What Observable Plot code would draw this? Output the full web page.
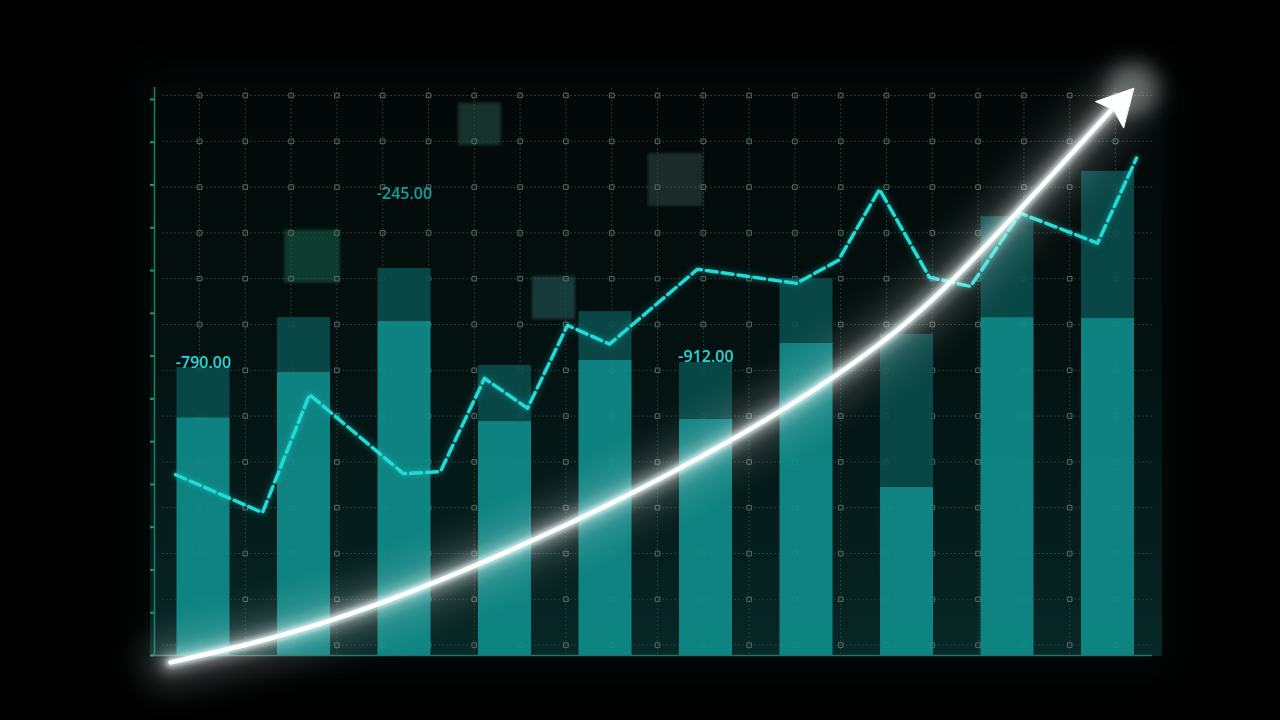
<!DOCTYPE html>
<html>
<head>
<meta charset="utf-8">
<script src="https://cdn.jsdelivr.net/npm/d3@7"></script>
<script src="https://cdn.jsdelivr.net/npm/@observablehq/plot@0.6"></script>
<style>
  html, body { margin: 0; padding: 0; background: #000; width: 1280px; height: 720px; overflow: hidden; }
  #stage { position: relative; width: 1280px; height: 720px; background: #000; }
  #panel { position: absolute; left: 150px; top: 84px; width: 1012px; height: 572px;
           background: linear-gradient(180deg, #030807 0%, #031110 45%, #05201f 85%, #062826 100%);
           box-shadow: 0 0 40px 20px #020908; }
  #stage svg { position: absolute; left: 0; top: 0; }
</style>
</head>
<body>
<div id="stage"><div id="panel"></div></div>
<script>
// ---------------- data ----------------
const periods      = [1, 2, 3, 4, 5, 6, 7, 8, 9, 10];
const baseValues   = [556, 662, 781, 547, 690, 552, 730, 393, 790, 788];   // lighter lower segment
const totalValues  = [673, 790, 905, 678, 804, 685, 881, 751, 1026, 1132]; // darker top of bar

const trendX = [0.721, 1.587, 2.055, 2.990, 3.358, 3.796, 4.224, 4.622, 5.040, 5.915, 6.900, 7.318, 7.726, 8.224, 8.632, 9.129, 9.896, 10.284];
const trendY = [423, 334, 610, 425, 430, 648, 578, 772, 728, 903, 870, 924, 1090, 884, 863, 1034, 964, 1163];

const growthX = [0.672, 2.264, 4.254, 6.244, 7.736, 8.761, 10.075];
const growthY = [-16, 82, 267, 503, 730, 952, 1286];

const arrowHeadX = [10.254, 9.876, 10.055, 10.154];
const arrowHeadY = [1326, 1295, 1276, 1234];

const labelPeriods = [1, 3, 6];
const labelValues  = [685, 1080, 699];
const labelTexts   = ["-790.00", "-245.00", "-912.00"];
const labelColors  = ["#22d8d8", "#179a98", "#22d8d8"];

const yTicks = d3.range(0, 1400, 100);

// background grid (cell units)
const gridCols = d3.range(0, 21);
const gridRows = d3.range(0, 13);
const tileX1 = [5.66, 9.80, 1.86, 7.27];
const tileX2 = [6.59, 11.0, 3.08, 8.21];
const tileY1 = [0.17, 1.27, 2.94, 3.95];
const tileY2 = [1.09, 2.42, 4.10, 4.89];
const tileColors = ["#12302a", "#1d2b29", "#0c3a2d", "#163a37"];

// ---------------- tables ----------------
const bars = periods.map((p, i) => ({period: p, base: baseValues[i], total: totalValues[i]}));
const trend = trendX.map((x, i) => ({x, y: trendY[i]}));
const growth = growthX.map((x, i) => ({x, y: growthY[i]}));
const head = arrowHeadX.map((x, i) => ({x, y: arrowHeadY[i]}));
const tip = [head[0]];
const labels = labelPeriods.map((p, i) => ({x: p, y: labelValues[i], text: labelTexts[i], color: labelColors[i]}));
const tiles = tileX1.map((x1, i) => ({x1, x2: tileX2[i], y1: tileY1[i], y2: tileY2[i], color: tileColors[i]}));
const crossings = d3.cross(gridCols, gridRows);

const stage = document.getElementById("stage");

// ---------------- grid layer ----------------
const grid = Plot.plot({
  width: 1280, height: 720,
  marginLeft: 199, marginRight: 165, marginTop: 95, marginBottom: 75.4,
  x: {domain: [0, 20], axis: null},
  y: {domain: [12, 0], axis: null},
  style: {background: "transparent"},
  marks: [
    Plot.rect(tiles, {x1: "x1", x2: "x2", y1: "y1", y2: "y2", fill: "color"}),
    Plot.ruleX(gridCols, {y1: -0.15, y2: 12.22, stroke: "#344844", strokeWidth: 1, strokeDasharray: "1.5,2.5"}),
    Plot.ruleY(gridRows, {x1: -0.8, x2: 20.8, stroke: "#344844", strokeWidth: 1, strokeDasharray: "1.5,2.5"}),
    Plot.dot(crossings, {x: d => d[0], y: d => d[1], symbol: "square", r: 2.6, stroke: "#566a64", strokeWidth: 1, fill: "none"})
  ]
});
stage.appendChild(grid);

// ---------------- main chart layer ----------------
const hw = 0.264;
const chart = Plot.plot({
  width: 1280, height: 720,
  marginLeft: 154, marginRight: 128, marginTop: 87, marginBottom: 65,
  x: {domain: [0.5124, 10.4428], axis: null},
  y: {domain: [0, 1328], axis: null},
  style: {background: "transparent", fontFamily: "'Open Sans', sans-serif"},
  marks: [
    Plot.rect(bars, {x1: d => d.period - hw, x2: d => d.period + hw, y1: 0, y2: "base", fill: "#0f8c8a", fillOpacity: 0.92}),
    Plot.rect(bars, {x1: d => d.period - hw, x2: d => d.period + hw, y1: "base", y2: "total", fill: "#0a4d4c", fillOpacity: 0.9}),
    Plot.ruleX([0.5124], {stroke: "#1e8060", strokeWidth: 1.5}),
    Plot.ruleY([0], {stroke: "#2a6f66", strokeWidth: 1.5}),
    Plot.axisY(yTicks, {tickSize: 4, stroke: "#1f9a66", fill: "none", strokeWidth: 2, label: null}),
    Plot.line(trend, {x: "x", y: "y", stroke: "#1fe0da", strokeWidth: 7, strokeOpacity: 0.22}),
    Plot.line(trend, {x: "x", y: "y", stroke: "#1fdcd6", strokeWidth: 3.5, strokeDasharray: "11,5"}),
    Plot.text(labels, {x: "x", y: "y", text: "text", fill: "color", fontSize: 16, fontWeight: 600}),
    Plot.line(growth, {x: "x", y: "y", stroke: "#ffffff", strokeWidth: 60, strokeOpacity: 0.14, curve: "natural"}),
    Plot.line(growth, {x: "x", y: "y", stroke: "#ffffff", strokeWidth: 24, strokeOpacity: 0.32, curve: "natural"}),
    Plot.line(growth, {x: "x", y: "y", stroke: "#eaffff", strokeWidth: 9, strokeOpacity: 0.8, curve: "natural"}),
    Plot.line(growth, {x: "x", y: "y", stroke: "#ffffff", strokeWidth: 4.5, curve: "natural"}),
    Plot.dot(tip, {x: "x", y: "y", r: 26, fill: "#ffffff", fillOpacity: 0.35}),
    Plot.line(head, {x: "x", y: "y", stroke: "#ffffff", strokeWidth: 1, fill: "#ffffff", curve: "linear-closed"})
  ]
});
stage.appendChild(chart);

// ---------------- glow filters ----------------
function addFilters(svgNode, specs) {
  const svg = d3.select(svgNode);
  const defs = svg.insert("defs", ":first-child");
  for (const [id, s] of specs) {
    defs.append("filter").attr("id", id)
      .attr("x", "-60%").attr("y", "-60%").attr("width", "220%").attr("height", "220%")
      .append("feGaussianBlur").attr("stdDeviation", s);
  }
}
addFilters(chart, [["glowWide", 14], ["glowMid", 6], ["glowSoft", 2.5], ["glowTip", 10]]);
addFilters(grid, [["tileSoft", 1.5]]);
const widthToFilter = {"60": "glowWide", "24": "glowMid", "9": "glowSoft", "7": "glowSoft"};
d3.select(chart).selectAll('g[aria-label="line"]').each(function () {
  const w = this.getAttribute("stroke-width");
  if (widthToFilter[w]) this.setAttribute("filter", `url(#${widthToFilter[w]})`);
});
d3.select(chart).selectAll('g[aria-label="dot"]').attr("filter", "url(#glowTip)");
d3.select(grid).selectAll('g[aria-label="rect"]').attr("filter", "url(#tileSoft)");
</script>
</body>
</html>
